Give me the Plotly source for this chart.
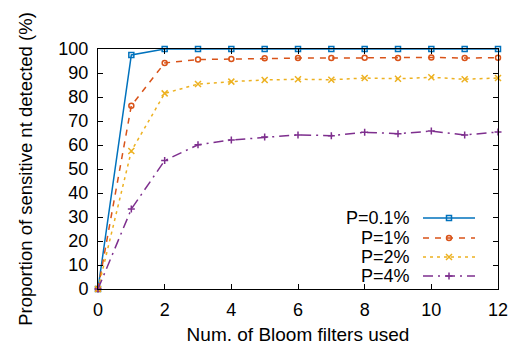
import plotly.graph_objects as go

x = list(range(13))
p01 = [0, 97.5, 100, 100, 100, 100, 100, 100, 100, 100, 100, 100, 100]
p1 = [0, 76.4, 94.2, 95.6, 95.8, 96.1, 96.2, 96.2, 96.4, 96.3, 96.5, 96.2, 96.4]
p2 = [0, 57.5, 81.5, 85.4, 86.4, 87.1, 87.4, 87.2, 87.9, 87.6, 88.2, 87.4, 87.9]
p4 = [0, 33.3, 53.5, 60.1, 62.1, 63.3, 64.2, 63.9, 65.3, 64.7, 65.8, 64.2, 65.4]
names = ["P=0.1%", "P=1%", "P=2%", "P=4%"]
series = [p01, p1, p2, p4]
colors = ["#0072BD", "#D95319", "#EDB120", "#7E2F8E"]
dashes = ["solid", "6px,6px", "3px,4px", "10px,5px,2px,5px"]
symbols = ["square-open", "circle-open", "x-thin-open", "cross-thin-open"]
msizes = [5, 5, 6, 5]
xticks = [0, 2, 4, 6, 8, 10, 12]
yticks = list(range(0, 101, 10))

FONT = "Liberation Sans, Arial, sans-serif"
fig = go.Figure()
for name, ys, c, d, s, ms in zip(names, series, colors, dashes, symbols, msizes):
    fig.add_trace(go.Scatter(x=x, y=ys, mode="lines+markers", name=name,
                             line=dict(color=c, width=1.5, dash=d),
                             marker=dict(symbol=s, size=ms, color=c, line=dict(color=c, width=1.5)),
                             cliponaxis=False, showlegend=False))

# manual legend (text on left, sample on right)
leg_y = [0.296, 0.2125, 0.133, 0.054]
for name, c, d, s, ms, ly in zip(names, colors, dashes, symbols, msizes, leg_y):
    fig.add_trace(go.Scatter(x=[0.8125, 0.8775, 0.9425], y=[ly, ly, ly], mode="lines",
                             line=dict(color=c, width=1.5, dash=d), xaxis="x2", yaxis="y2",
                             showlegend=False, hoverinfo="skip", cliponaxis=False))
    fig.add_trace(go.Scatter(x=[0.8775], y=[ly], mode="markers",
                             marker=dict(symbol=s, size=ms, color=c, line=dict(color=c, width=1.5)),
                             xaxis="x2", yaxis="y2", showlegend=False, hoverinfo="skip", cliponaxis=False))
    fig.add_annotation(x=0.785, y=ly, xref="paper", yref="paper", text=name, showarrow=False,
                       xanchor="right", yanchor="middle", font=dict(size=18, color="black", family=FONT))

axis_common = dict(showgrid=False, zeroline=False, showline=True, linecolor="black", linewidth=1,
                   mirror="ticks", ticks="inside", ticklen=5, tickcolor="black", automargin=False,
                   tickfont=dict(size=18, color="black", family=FONT))
fig.update_layout(
    width=511, height=345,
    margin=dict(l=98, r=13, t=49, b=56),
    paper_bgcolor="white", plot_bgcolor="white",
    font=dict(family=FONT, color="black"),
    xaxis=dict(range=[0, 12], tickvals=xticks, ticklabelstandoff=4,
               title=dict(text="Num. of Bloom filters used", font=dict(size=19), standoff=10),
               **axis_common),
    yaxis=dict(range=[0, 100], tickvals=yticks, ticklabelstandoff=5,
               title=dict(text="Proportion of sensitive nt detected (%)", font=dict(size=18.5), standoff=20),
               **axis_common),
    xaxis2=dict(range=[0, 1], overlaying="x", visible=False),
    yaxis2=dict(range=[0, 1], overlaying="y", visible=False),
)
fig.write_html("out.html", config={"displayModeBar": False},
               post_script="document.body.style.margin='0';document.body.style.overflow='hidden';")
